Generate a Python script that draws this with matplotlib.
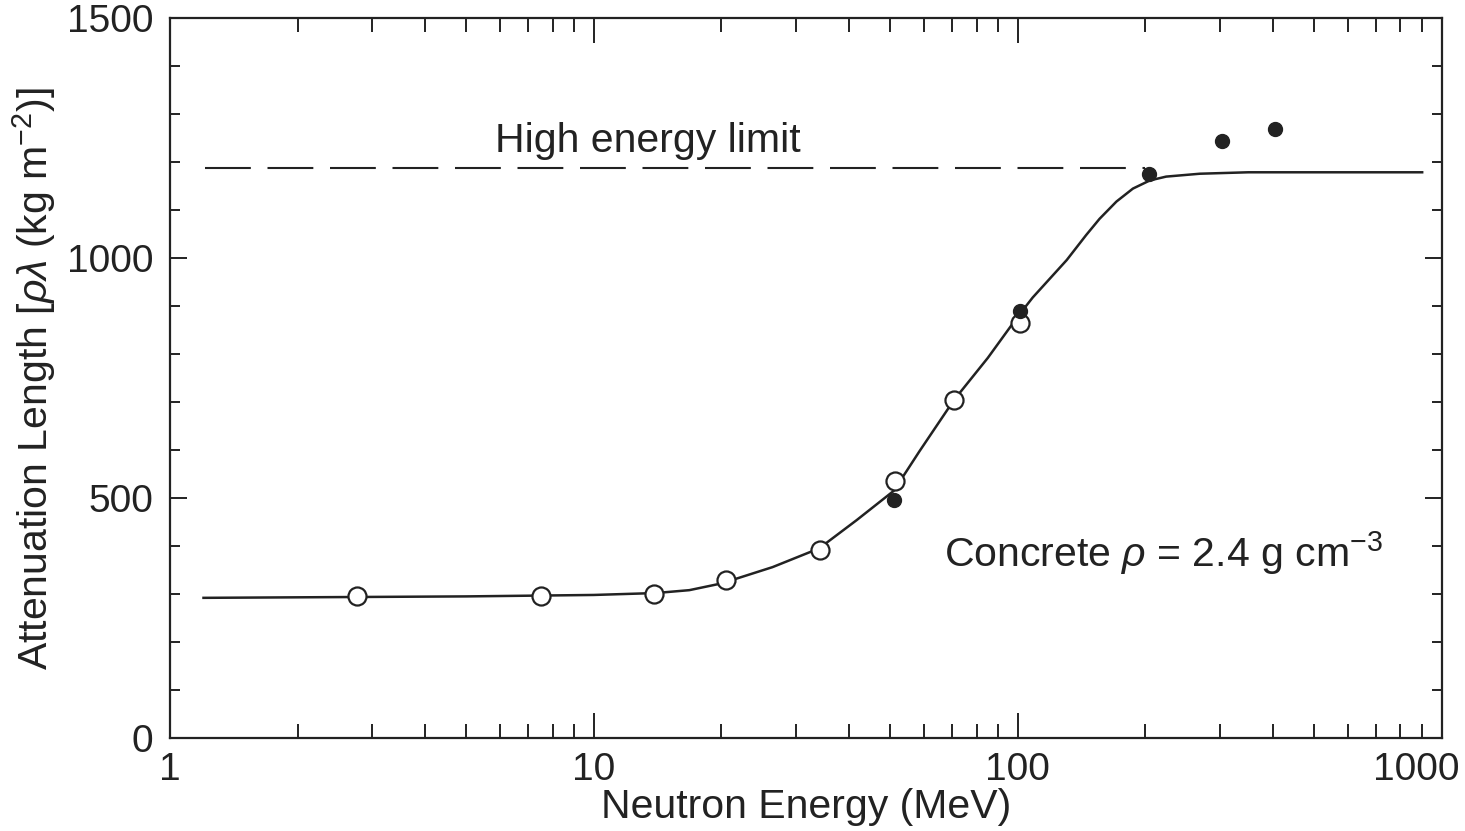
import numpy as np
import matplotlib
matplotlib.use("Agg")
import matplotlib.pyplot as plt
from matplotlib.ticker import FixedLocator, NullFormatter
from matplotlib.transforms import ScaledTranslation

plt.rcParams['font.family'] = ['Liberation Sans', 'DejaVu Sans']
plt.rcParams['mathtext.fontset'] = 'custom'
plt.rcParams['mathtext.rm'] = 'Liberation Sans'
plt.rcParams['mathtext.it'] = 'Liberation Sans:italic'

# fitted curve
curve_e = [1.2, 5, 10, 14, 16.8, 20, 26.4, 34, 41.7, 51, 58.7, 70.7, 85, 100,
           108.5, 130.5, 145, 156, 171, 187, 205, 224, 269, 350, 500, 900]
curve_v = [292, 295, 298, 302, 308, 322, 356, 395, 454, 515, 598, 704, 792, 878,
           918, 996, 1048, 1082, 1118, 1145, 1162, 1170, 1176, 1179, 1179, 1179]

# open circles
open_e = [2.76, 7.5, 13.9, 20.5, 34.1, 51.3, 70.7, 101]
open_v = [295, 296, 300, 329, 392, 535, 704, 865]

# filled circles
fill_e = [51, 101, 204, 304, 404]
fill_v = [496, 890, 1175, 1244, 1269]

limit_e = [1.21, 200]
limit_v = [1187, 1187]

ink = '#222222'

fig = plt.figure(figsize=(14.65, 8.31), dpi=100)
ax = fig.add_axes([0.116, 0.112, 0.868, 0.866])

ax.plot(limit_e, limit_v, color=ink, lw=1.5, dashes=(22, 8))
ax.plot(curve_e, curve_v, color=ink, lw=1.8, zorder=2)
ax.plot(open_e, open_v, 'o', ms=13, mfc='white', mec=ink, mew=1.6, zorder=3)
ax.plot(fill_e, fill_v, 'o', ms=10, mfc=ink, mec=ink, zorder=4)

ax.set_xscale('log')
ax.set_xlim(1, 1000)
ax.set_ylim(0, 1500)

ax.xaxis.set_major_locator(FixedLocator([1, 10, 100, 1000]))
ax.set_xticklabels(['1', '10', '100', '1000'])
minors = [m * d for d in [1, 10, 100] for m in range(2, 10)]
ax.xaxis.set_minor_locator(FixedLocator(minors))
ax.xaxis.set_minor_formatter(NullFormatter())
ax.yaxis.set_major_locator(FixedLocator([0, 500, 1000, 1500]))
ax.yaxis.set_minor_locator(FixedLocator(np.arange(0, 1501, 100)))

ax.tick_params(which='both', direction='in', top=True, right=True, color=ink,
               labelcolor=ink, labelsize=28, width=1.4)
ax.tick_params(axis='x', which='major', length=18, pad=10)
ax.tick_params(axis='x', which='minor', length=10)
ax.tick_params(axis='y', which='major', length=12, pad=12)
ax.tick_params(axis='y', which='minor', length=7)

# last x label sits inside the figure edge
last = ax.xaxis.get_major_ticks()[-1].label1
last.set_horizontalalignment('right')
last.set_transform(last.get_transform() + ScaledTranslation(0.18, 0, fig.dpi_scale_trans))

for s in ax.spines.values():
    s.set_linewidth(1.6)
    s.set_color(ink)

ax.set_xlabel('Neutron Energy (MeV)', fontsize=29.5, color=ink, labelpad=0)
ax.set_ylabel('Attenuation Length [$\\rho\\lambda$ (kg m$^{-2}$)]', fontsize=29.5,
              color=ink, labelpad=6)

ax.text(5.84, 1244, 'High energy limit', fontsize=29.5, color=ink, va='center')
ax.text(67, 385, 'Concrete $\\rho$ = 2.4 g cm$^{-3}$', fontsize=29.5, color=ink,
        va='center')

fig.savefig('out.png', dpi=100)
